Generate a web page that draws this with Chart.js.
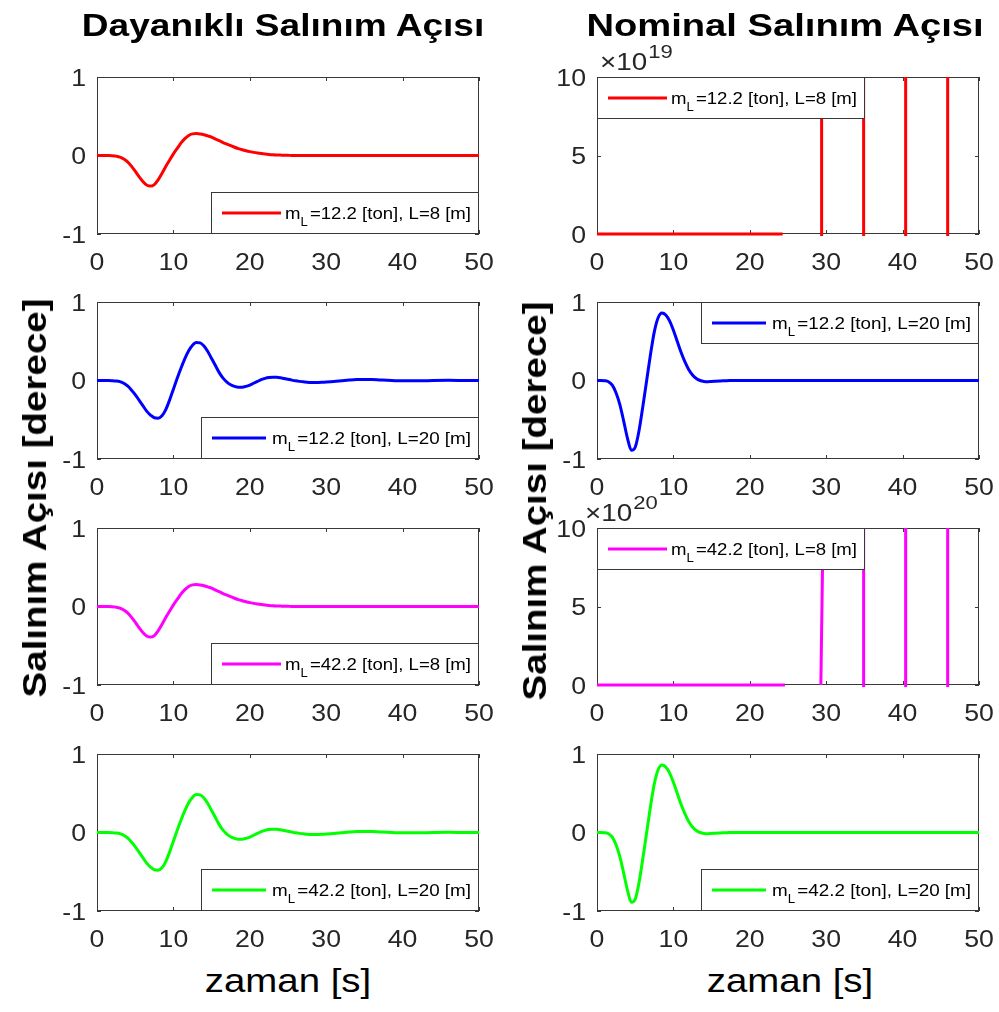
<!DOCTYPE html>
<html>
<head>
<meta charset="utf-8">
<script src="https://cdn.jsdelivr.net/npm/chart.js@4.4.1/dist/chart.umd.min.js"></script>
<style>
  html, body { margin: 0; padding: 0; background: #fff; }
  #fig { position: relative; width: 999px; height: 1012px; overflow: hidden;
         font-family: "Liberation Sans", Arial, sans-serif; color: #000; }
  #fig canvas { position: absolute; }
  .lbl { position: absolute; white-space: nowrap; line-height: 1; color: #000; }
</style>
</head>
<body>
<div id="fig"></div>
<script>
// time axis [s]
const timeS = [0,0.5,1,1.5,2,2.5,3,3.5,4,4.5,5,5.5,6,6.5,7,7.5,8,8.5,9,9.5,
  10,10.5,11,11.5,12,12.5,13,13.5,14,14.5,15,15.5,16,16.5,17,17.5,18,18.5,19,19.5,
  20,20.5,21,21.5,22,22.5,23,23.5,24,24.5,25,25.5,26,26.5,27,27.5,28,28.5,29,29.5,
  30,31,32,33,34,35,36,37,38,39,40,42,44,46,48,50];

// robust controller, L = 8 m (same response for both masses)
const robustL8 = [0,0,0,0,-0.002,-0.008,-0.02,-0.045,-0.08,-0.135,-0.2,-0.27,-0.33,-0.375,-0.39,-0.37,-0.31,-0.23,-0.14,-0.06,
  0.02,0.09,0.16,0.215,0.255,0.275,0.28,0.275,0.265,0.25,0.235,0.21,0.19,0.165,0.145,0.125,0.105,0.088,0.073,0.06,
  0.049,0.04,0.032,0.025,0.019,0.014,0.01,0.007,0.005,0.003,0.002,0.001,0.001,0,0,0,0,0,0,0,
  0,0,0,0,0,0,0,0,0,0,0,0,0,0,0,0];

// robust controller, L = 20 m
const robustL20 = [0,0,0,0,-0.002,-0.006,-0.015,-0.035,-0.07,-0.12,-0.18,-0.25,-0.32,-0.39,-0.44,-0.475,-0.48,-0.45,-0.37,-0.25,
  -0.11,0.03,0.16,0.28,0.38,0.45,0.485,0.48,0.44,0.37,0.28,0.19,0.1,0.03,-0.02,-0.055,-0.075,-0.085,-0.085,-0.075,
  -0.058,-0.035,-0.012,0.01,0.027,0.038,0.042,0.04,0.034,0.025,0.015,0.005,-0.004,-0.011,-0.017,-0.021,-0.024,-0.025,-0.025,-0.023,
  -0.02,-0.013,-0.004,0.005,0.012,0.014,0.012,0.007,0.002,-0.002,-0.004,-0.004,0,0.002,0.001,0];

// nominal controller, L = 20 m
const nominalL20 = [0,0,-0.003,-0.015,-0.06,-0.16,-0.31,-0.52,-0.74,-0.89,-0.85,-0.64,-0.33,0,0.33,0.62,0.8,0.86,0.835,0.76,
  0.64,0.5,0.36,0.24,0.14,0.07,0.025,0,-0.012,-0.015,-0.013,-0.01,-0.007,-0.004,-0.002,-0.001,0,0,0,0,
  0,0,0,0,0,0,0,0,0,0,0,0,0,0,0,0,0,0,0,0,
  0,0,0,0,0,0,0,0,0,0,0,0,0,0,0,0];

// nominal controller, L = 8 m: diverges (null = gap in the trace)
const nominalM12T = [0,24.3,27,29.4,29.4,32,34.9,34.9,38,40.4,40.4,43,45.9,45.9];
const nominalM12Y = [0,0,null,-2e19,2e20,null,-2e19,2e20,null,-2e19,2e20,null,-2e19,2e20];
const nominalM42T = [0,24.6,27,29.3,29.62,32,34.9,34.9,38,40.4,40.4,43,45.9,45.9];
const nominalM42Y = [0,0,null,0,1.1e21,null,-2e20,2e21,null,-2e20,2e21,null,-2e20,2e21];

// ticks
const xTicks = [0,10,20,30,40,50];
const xTickLabels = ['0','10','20','30','40','50'];
const yTicksUnit = [-1,0,1];
const yTickLabelsUnit = ['-1','0','1'];
const yTicksExp = [0,5,10];
const yTickLabelsExp = ['0','5','10'];

const massLabels = ['12.2','12.2','42.2','42.2'];
const lengthLabels = ['8','20','8','20'];
const rowColors = ['#ff0000','#0000ff','#ff00ff','#00ff00'];

// ---- layout ----
const FONT = '"Liberation Sans", Arial, sans-serif';
const STRETCH = 1.16;
const AXIS_COLOR = '#383838';
const TEXT_COLOR = '#262626';
const TICK = 4;
const AX_LEFT = [97, 597], AX_W = 382;
const AX_TOP = [77, 302, 528, 754], AX_H = 157;
const PAD = {left: 95, top: 40, right: 25, bottom: 50};

const fig = document.getElementById('fig');

function drawStretched(ctx, txt, x, y, align, size, weight) {
  ctx.save();
  ctx.font = (weight || 'normal') + ' ' + size + 'px ' + FONT;
  const w = ctx.measureText(txt).width * STRETCH;
  const x0 = align === 'right' ? x - w : align === 'center' ? x - w / 2 : x;
  ctx.translate(x0, y);
  ctx.scale(STRETCH, 1);
  ctx.textAlign = 'left';
  ctx.textBaseline = 'alphabetic';
  ctx.fillText(txt, 0, 0);
  ctx.restore();
  return w;
}

const matlabAxes = {
  id: 'matlabAxes',
  beforeDatasetsDraw(chart, args, o) {
    const {ctx, chartArea: a, scales: {x, y}} = chart;
    ctx.save();
    ctx.strokeStyle = AXIS_COLOR;
    ctx.lineWidth = 1;
    ctx.strokeRect(a.left + 0.5, a.top + 0.5, a.right - a.left - 1, a.bottom - a.top - 1);
    ctx.beginPath();
    o.xTicks.forEach(v => {
      const px = Math.round(x.getPixelForValue(v)) + 0.5;
      ctx.moveTo(px, a.bottom); ctx.lineTo(px, a.bottom - TICK);
      ctx.moveTo(px, a.top); ctx.lineTo(px, a.top + TICK);
    });
    o.yTicks.forEach(v => {
      const py = Math.round(y.getPixelForValue(v)) + 0.5;
      ctx.moveTo(a.left, py); ctx.lineTo(a.left + TICK, py);
      ctx.moveTo(a.right, py); ctx.lineTo(a.right - TICK, py);
    });
    ctx.stroke();

    ctx.fillStyle = TEXT_COLOR;
    o.xTicks.forEach((v, i) => drawStretched(ctx, o.xLabels[i], x.getPixelForValue(v), a.bottom + 36, 'center', 23));
    o.yTicks.forEach((v, i) => drawStretched(ctx, o.yLabels[i], a.left - 11, y.getPixelForValue(v) + 8.5, 'right', 23));
    if (o.exp) {
      const x0 = a.left + o.expDx;
      const w = drawStretched(ctx, '\u00d710', x0, a.top - 7, 'left', 24);
      drawStretched(ctx, String(o.exp), x0 + w + 1, a.top - 19, 'left', 19);
    }
    ctx.restore();
  },
  afterDatasetsDraw(chart, args, o) {
    const {ctx, chartArea: a} = chart;
    const ds = chart.data.datasets[0];
    const wBox = o.legendW, hBox = 42;
    const bx = o.legendLoc[1] === 'w' ? a.left : a.right - wBox;
    const by = o.legendLoc[0] === 'n' ? a.top : a.bottom - hBox;
    ctx.save();
    ctx.fillStyle = '#fff';
    ctx.fillRect(bx, by, wBox, hBox);
    ctx.strokeStyle = AXIS_COLOR;
    ctx.lineWidth = 1;
    ctx.strokeRect(bx + 0.5, by + 0.5, wBox - 1, hBox - 1);
    ctx.strokeStyle = ds.borderColor;
    ctx.lineWidth = 3;
    ctx.beginPath();
    ctx.moveTo(bx + 11, by + 21);
    ctx.lineTo(bx + o.sampleEnd, by + 21);
    ctx.stroke();

    // m_L=... [ton], L=... [m]
    const start = bx + o.textStart, end = bx + wBox - 8;
    ctx.font = '17px ' + FONT;
    const wm = ctx.measureText('m').width;
    const rest = '=' + o.mass + ' [ton], L=' + o.len + ' [m]';
    const wr = ctx.measureText(rest).width;
    ctx.font = '12px ' + FONT;
    const wl = ctx.measureText('L').width;
    const s = (end - start) / (wm + wl + 2 + wr);
    ctx.translate(start, by + 27);
    ctx.scale(s, 1);
    ctx.fillStyle = '#000';
    ctx.textBaseline = 'alphabetic';
    ctx.font = '17px ' + FONT;
    ctx.fillText('m', 0, 0);
    ctx.fillText(rest, wm + wl + 2, 0);
    ctx.font = '12px ' + FONT;
    ctx.fillText('L', wm, 7);
    ctx.restore();
  }
};

const panels = [
  {col: 0, row: 0, t: timeS, y: robustL8, smooth: true, legendLoc: 'se'},
  {col: 1, row: 0, t: nominalM12T, y: nominalM12Y, smooth: false, legendLoc: 'nw', exp: 19, expDx: 3},
  {col: 0, row: 1, t: timeS, y: robustL20, smooth: true, legendLoc: 'se'},
  {col: 1, row: 1, t: timeS, y: nominalL20, smooth: true, legendLoc: 'ne'},
  {col: 0, row: 2, t: timeS, y: robustL8, smooth: true, legendLoc: 'se'},
  {col: 1, row: 2, t: nominalM42T, y: nominalM42Y, smooth: false, legendLoc: 'nw', exp: 20, expDx: -12},
  {col: 0, row: 3, t: timeS, y: robustL20, smooth: true, legendLoc: 'se'},
  {col: 1, row: 3, t: timeS, y: nominalL20, smooth: true, legendLoc: 'se'}
];

panels.forEach(p => {
  const cv = document.createElement('canvas');
  const W = AX_W + PAD.left + PAD.right, H = AX_H + PAD.top + PAD.bottom;
  cv.width = W; cv.height = H;
  cv.style.left = (AX_LEFT[p.col] - PAD.left) + 'px';
  cv.style.top = (AX_TOP[p.row] - PAD.top) + 'px';
  cv.style.width = W + 'px'; cv.style.height = H + 'px';
  fig.appendChild(cv);

  const len = lengthLabels[p.row];
  const scale = p.exp ? Math.pow(10, p.exp) : 1;
  const yTicks = p.exp ? yTicksExp.map(v => v * scale) : yTicksUnit;
  const yLabels = p.exp ? yTickLabelsExp : yTickLabelsUnit;

  new Chart(cv, {
    type: 'line',
    data: {
      datasets: [{
        label: 'm_L=' + massLabels[p.row] + ' [ton], L=' + len + ' [m]',
        data: p.t.map((x, i) => ({x: x, y: p.y[i]})),
        borderColor: rowColors[p.row],
        borderWidth: 3,
        pointRadius: 0,
        fill: false,
        spanGaps: false,
        tension: 0,
        clip: {left: 2, top: 0, right: 2, bottom: 2},
        cubicInterpolationMode: p.smooth ? 'monotone' : 'default'
      }]
    },
    options: {
      responsive: false,
      animation: false,
      devicePixelRatio: 1,
      events: [],
      layout: {padding: PAD},
      scales: {
        x: {type: 'linear', min: 0, max: 50, display: false},
        y: {type: 'linear', min: yTicks[0], max: yTicks[yTicks.length - 1], display: false}
      },
      plugins: {
        legend: {display: false},
        tooltip: {enabled: false},
        matlabAxes: {
          xTicks: xTicks, xLabels: xTickLabels,
          yTicks: yTicks, yLabels: yLabels,
          exp: p.exp, expDx: p.expDx,
          legendLoc: p.legendLoc,
          legendW: len === '8' ? 268 : 278,
          sampleEnd: len === '8' ? 70 : 65,
          textStart: len === '8' ? 74 : 71,
          mass: massLabels[p.row], len: len
        }
      }
    },
    plugins: [matlabAxes]
  });
});

// titles and axis labels as html text
function addText(txt, o) {
  const d = document.createElement('div');
  d.className = 'lbl';
  d.textContent = txt;
  d.style.fontSize = o.size + 'px';
  d.style.fontWeight = o.bold ? 'bold' : 'normal';
  fig.appendChild(d);
  const s = o.span / d.offsetWidth;
  if (o.rotate) {
    d.style.left = (o.base - 0.3465 * o.size) + 'px';
    d.style.top = o.center + 'px';
    d.style.transform = 'translate(-50%,-50%) rotate(-90deg) scaleX(' + s + ')';
  } else {
    d.style.left = o.center + 'px';
    d.style.top = (o.base - 0.8465 * o.size) + 'px';
    d.style.transform = 'translateX(-50%) scaleX(' + s + ')';
  }
}

addText('Dayanıklı Salınım Açısı', {size: 32, bold: true, span: 402, center: 283, base: 36});
addText('Nominal Salınım Açısı', {size: 32, bold: true, span: 397, center: 785, base: 36});
addText('Salınım Açısı [derece]', {size: 34, bold: true, span: 399, center: 497.5, base: 46, rotate: true});
addText('Salınım Açısı [derece]', {size: 34, bold: true, span: 399, center: 501, base: 546, rotate: true});
addText('zaman [s]', {size: 34, span: 166, center: 288, base: 992});
addText('zaman [s]', {size: 34, span: 166, center: 790, base: 992});
</script>
</body>
</html>
